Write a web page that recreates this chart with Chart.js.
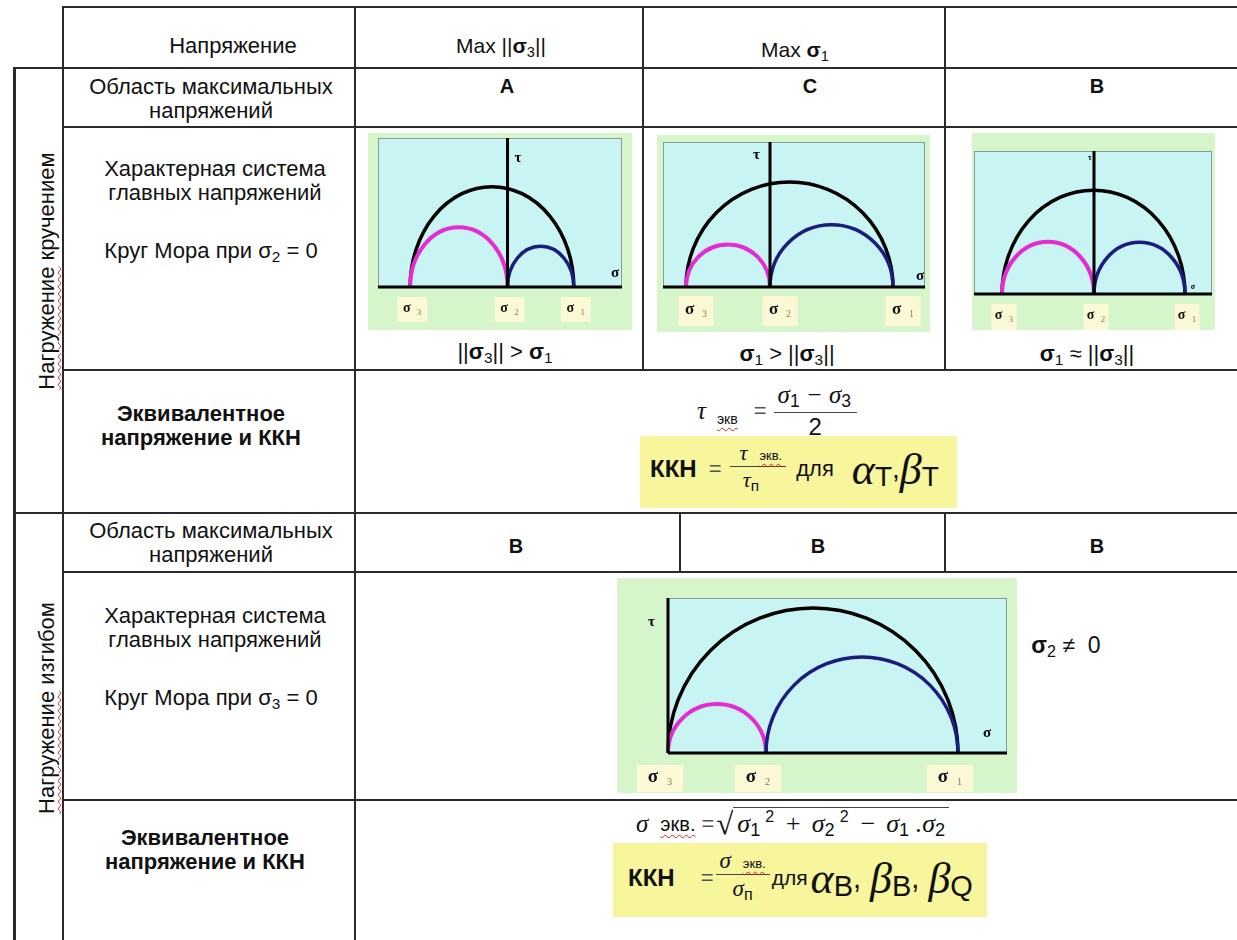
<!DOCTYPE html>
<html>
<head>
<meta charset="utf-8">
<script src="https://cdn.jsdelivr.net/npm/chart.js@4"></script>
<style>
  body { margin: 0; background: #fff; }
  #page { position: relative; width: 1237px; height: 940px; overflow: hidden; font-family: "Liberation Sans", Arial, sans-serif; color: #111; }
  .h, .v { position: absolute; background: #2a2a2a; }
  .t { position: absolute; transform: translate(-50%, -50%); white-space: nowrap; text-align: center; font-size: 22px; line-height: 24px; }
  .b { font-weight: bold; }
  .rot { position: absolute; white-space: nowrap; font-size: 22px; transform: translate(-50%, -50%) rotate(-90deg); }
  .spell { text-decoration: underline wavy #d22; text-decoration-thickness: 1px; text-underline-offset: 3px; }
  canvas { position: absolute; }
  .f { position: absolute; display: flex; align-items: center; white-space: nowrap; }
  .g { font-family: "Liberation Serif", serif; font-style: italic; }
  .u { font-family: "Liberation Sans", sans-serif; font-style: normal; }
  .frac { display: inline-flex; flex-direction: column; align-items: center; }
  .num { border-bottom: 1.5px solid #444; padding: 0 3px; }
  .ybox { position: absolute; background: #f7f69c; }
  sub { font-size: 70%; vertical-align: -0.25em; }
  .op { margin: 0 10px; }
</style>
</head>
<body>
<div id="page">
  <!-- grid lines -->
  <div class="h" style="left:63px;top:6px;width:1174px;height:2px"></div>
  <div class="h" style="left:14px;top:67px;width:1223px;height:2px"></div>
  <div class="h" style="left:64px;top:126px;width:1173px;height:2px"></div>
  <div class="h" style="left:64px;top:369px;width:1173px;height:2px"></div>
  <div class="h" style="left:14px;top:512px;width:1223px;height:2px"></div>
  <div class="h" style="left:64px;top:571px;width:1173px;height:2px"></div>
  <div class="h" style="left:64px;top:799px;width:1173px;height:2px"></div>
  <div class="v" style="left:13px;top:67px;width:3px;height:873px"></div>
  <div class="v" style="left:62px;top:6px;width:2px;height:934px"></div>
  <div class="v" style="left:354px;top:6px;width:2px;height:934px"></div>
  <div class="v" style="left:642px;top:6px;width:2px;height:364px"></div>
  <div class="v" style="left:944px;top:6px;width:2px;height:364px"></div>
  <div class="v" style="left:679px;top:512px;width:2px;height:60px"></div>
  <div class="v" style="left:944px;top:512px;width:2px;height:60px"></div>

  <!-- left headers -->
  <div class="rot" style="left:47px;top:271px"><span class="spell">Нагружение</span> кручением</div>
  <div class="rot" style="left:47px;top:708px"><span class="spell">Нагружение</span> изгибом</div>

  <div class="t" style="left:233px;top:46px">Напряжение</div>
  <div class="t" style="left:211px;top:99px">Область максимальных<br>напряжений</div>
  <div class="t" style="left:215px;top:181px">Характерная система<br>главных напряжений</div>
  <div class="t" style="left:211px;top:254px">Круг Мора при σ<sub>2</sub> = 0</div>
  <div class="t b" style="left:201px;top:426px">Эквивалентное<br>напряжение и ККН</div>
  <div class="t" style="left:211px;top:543px">Область максимальных<br>напряжений</div>
  <div class="t" style="left:215px;top:628px">Характерная система<br>главных напряжений</div>
  <div class="t" style="left:211px;top:701px">Круг Мора при σ<sub>3</sub> = 0</div>
  <div class="t b" style="left:205px;top:850px">Эквивалентное<br>напряжение и ККН</div>

  <!-- column headers -->
  <div class="t" style="left:501px;top:49px;font-size:21px">Max ||<b>σ</b><sub>3</sub>||</div>
  <div class="t" style="left:795px;top:53px;font-size:21px">Max <b>σ</b><sub>1</sub></div>
  <div class="t b" style="left:507px;top:86px;font-size:20px">A</div>
  <div class="t b" style="left:810px;top:86px;font-size:20px">C</div>
  <div class="t b" style="left:1097px;top:86px;font-size:20px">B</div>
  <div class="t b" style="left:516px;top:546px;font-size:20px">B</div>
  <div class="t b" style="left:818px;top:546px;font-size:20px">B</div>
  <div class="t b" style="left:1097px;top:546px;font-size:20px">B</div>

  <!-- Mohr diagrams -->
  <canvas id="mohr0" width="264" height="197" style="left:368px;top:133px"></canvas>
  <canvas id="mohr1" width="273" height="197" style="left:657px;top:135px"></canvas>
  <canvas id="mohr2" width="243" height="197" style="left:972px;top:133px"></canvas>
  <canvas id="mohr3" width="400" height="215" style="left:617px;top:578px"></canvas>

  <div class="t" style="left:505px;top:355px">||<b>σ</b><sub>3</sub>|| &gt; <b>σ</b><sub>1</sub></div>
  <div class="t" style="left:787px;top:357px"><b>σ</b><sub>1</sub> &gt; ||<b>σ</b><sub>3</sub>||</div>
  <div class="t" style="left:1087px;top:357px"><b>σ</b><sub>1</sub> ≈ ||<b>σ</b><sub>3</sub>||</div>
  <div class="t" style="left:1066px;top:648px;font-size:23px"><b>σ</b><sub>2</sub> ≠&nbsp; 0</div>

  <!-- torsion formulas -->
  <div class="f" style="left:697px;top:381px">
    <span class="g" style="font-size:25px">τ</span>
    <span class="spell" style="font-size:14px;margin:16px 0 0 11px">экв</span>
    <span style="font-size:22px;color:#555;margin:0 7px 0 16px">=</span>
    <span class="frac"><span class="num g" style="font-size:25px;padding:0 6px 0 4px">σ<sub class="u">1</sub> − σ<sub class="u">3</sub></span><span style="font-size:24px;line-height:27px">2</span></span>
  </div>
  <div class="ybox" style="left:640px;top:436px;width:317px;height:72px"></div>
  <div class="f" style="left:650px;top:440px">
    <span class="b" style="font-size:24px">ККН</span>
    <span style="font-size:22px;color:#555;margin:0 8px 0 12px">=</span>
    <span class="frac"><span class="num" style="padding:0 4px 0 10px"><span class="g" style="font-size:22px">τ</span><span class="spell" style="font-size:13px;margin-left:12px">экв.</span></span><span class="g" style="font-size:22px;line-height:26px;margin-right:14px">τ<sub class="u">п</sub></span></span>
    <span style="font-size:22px;margin:0 18px 0 10px">для</span>
    <span class="g" style="font-size:44px">α</span><span style="font-size:28px;margin-top:16px">Т</span><span style="font-size:28px">,</span><span class="g" style="font-size:44px">β</span><span style="font-size:28px;margin-top:16px">Т</span>
  </div>

  <!-- bending formulas -->
  <div class="f" style="left:636px;top:806px">
    <span class="g" style="font-size:25px">σ</span>
    <span class="spell" style="font-size:20px;margin-left:12px">экв.</span>
    <span style="font-size:22px;color:#555;margin:0 2px 0 6px">=</span>
    <span style="font-size:31px;font-family:'Liberation Serif'">√</span><span class="g" style="font-size:26px;border-top:1.5px solid #444;padding:0 4px">σ<sub class="u">1</sub><sup class="u" style="font-size:16px;margin-left:5px">2</sup><span class="op">+</span>σ<sub class="u">2</sub><sup class="u" style="font-size:16px;margin-left:5px">2</sup><span class="op">−</span>σ<sub class="u">1</sub>&nbsp;.σ<sub class="u">2</sub></span>
  </div>
  <div class="ybox" style="left:613px;top:843px;width:374px;height:74px"></div>
  <div class="f" style="left:628px;top:848px">
    <span class="b" style="font-size:24px">ККН</span>
    <span style="font-size:22px;color:#555;margin:0 2px 0 26px">=</span>
    <span class="frac"><span class="num" style="padding:0 4px"><span class="g" style="font-size:23px">σ</span><span class="spell" style="font-size:13px;margin-left:12px">экв.</span></span><span class="g" style="font-size:23px;line-height:27px">σ<sub class="u">п</sub></span></span>
    <span style="font-size:21px;margin:0 3px 0 2px">для</span>
    <span class="g" style="font-size:44px">α</span><span style="font-size:29px;margin-top:16px">В</span><span style="font-size:29px">,</span>
    <span class="g" style="font-size:44px;margin-left:9px">β</span><span style="font-size:29px;margin-top:16px">В</span><span style="font-size:29px">,</span>
    <span class="g" style="font-size:44px;margin-left:9px">β</span><span style="font-size:29px;margin-top:16px">Q</span>
  </div>
</div>

<script>
// principal stresses (arbitrary units, tau axis sits at sigma = 0)
const panels = ['A', 'C', 'B', 'bending'];
const sigma3 = [-97, -84, -92, 0];
const sigma2 = [0, 0, 0, 98];
const sigma1 = [66, 123, 91, 290];
const sigmaMin = [-129, -107, -120, 0];
const sigmaMax = [114, 155, 118, 339];
const tauMax = [121, 143, 126, 155];
const tickNames = ['3', '2', '1'];

// drawing setup per panel (not data)
const looks = [
    { pad: { left: 10, top: 5, right: 10, bottom: 43 }, tickFont: 14, subFont: 9, boxW: 30, boxH: 25, boxGap: 10, dx: 2, axisFont: 15, tauDx: 7, tauDy: 20, sigDx: -7, sigDy: -14 },
    { pad: { left: 6, top: 7, right: 5, bottom: 45 }, tickFont: 17, subFont: 10, boxW: 35, boxH: 30, boxGap: 9, dx: 10, axisFont: 15, tauDx: -17, tauDy: 13, sigDx: -5, sigDy: -11 },
    { pad: { left: 2, top: 18, right: 3, bottom: 36 }, tickFont: 14, subFont: 9, boxW: 25, boxH: 26, boxGap: 10, dx: 2, axisFont: 8, tauDx: -6, tauDy: 7, sigDx: -19, sigDy: -7 },
    { pad: { left: 51, top: 20, right: 10, bottom: 40 }, tickFont: 19, subFont: 11, boxW: 46, boxH: 27, boxGap: 12, dx: -8, axisFont: 15, tauDx: -20, tauDy: 24, sigDx: -20, sigDy: -20 },
];

const circleStyles = [
    { from: 0, to: 2, color: '#000000', width: 3.5 }, // sigma3 .. sigma1
    { from: 0, to: 1, color: '#e52bd2', width: 4 },   // sigma3 .. sigma2
    { from: 1, to: 2, color: '#1c1c7c', width: 3.5 }, // sigma2 .. sigma1
];

const mohrPlugin = {
    id: 'mohr',
    beforeDraw(chart) {
        const { ctx, chartArea } = chart;
        ctx.save();
        ctx.fillStyle = '#d6f5cb';
        ctx.fillRect(0, 0, chart.width, chart.height);
        ctx.fillStyle = '#c9f4f4';
        ctx.fillRect(chartArea.left, chartArea.top, chartArea.right - chartArea.left, chartArea.bottom - chartArea.top);
        ctx.strokeStyle = '#8a9a9a';
        ctx.lineWidth = 1;
        ctx.strokeRect(chartArea.left + 0.5, chartArea.top + 0.5, chartArea.right - chartArea.left - 1, chartArea.bottom - chartArea.top);
        ctx.restore();
    },
    afterDatasetsDraw(chart) {
        const { ctx, chartArea } = chart;
        const x = chart.scales.x, y = chart.scales.y;
        const look = chart.options.plugins.mohr;
        const pts = chart.data.datasets[0].data;
        const y0 = y.getPixelForValue(0);
        ctx.save();
        circleStyles.forEach(s => {
            const a = pts[s.from].x, b = pts[s.to].x;
            const cx = x.getPixelForValue((a + b) / 2);
            const rx = x.getPixelForValue(b) - cx;
            const ry = y0 - y.getPixelForValue((b - a) / 2);
            ctx.beginPath();
            ctx.ellipse(cx, y0, rx, ry, 0, Math.PI, 2 * Math.PI);
            ctx.strokeStyle = s.color;
            ctx.lineWidth = s.width;
            ctx.stroke();
        });
        // sigma and tau axes
        const xt = x.getPixelForValue(0);
        ctx.strokeStyle = '#000';
        ctx.lineWidth = 3;
        ctx.beginPath();
        ctx.moveTo(chartArea.left, y0);
        ctx.lineTo(chartArea.right, y0);
        ctx.moveTo(xt, chartArea.top);
        ctx.lineTo(xt, y0);
        ctx.stroke();
        ctx.fillStyle = '#000';
        ctx.font = 'bold ' + look.axisFont + 'px "Liberation Serif"';
        ctx.textAlign = 'left';
        ctx.textBaseline = 'middle';
        ctx.fillText('τ', xt + look.tauDx, chartArea.top + look.tauDy);
        ctx.textAlign = 'center';
        ctx.fillText('σ', chartArea.right + look.sigDx, y0 + look.sigDy);
        // principal stress labels under the axis
        pts.forEach((p, i) => {
            const cx = x.getPixelForValue(p.x) + look.dx;
            const top = y0 + look.boxGap;
            ctx.fillStyle = '#fbf8d6';
            ctx.fillRect(cx - look.boxW / 2, top, look.boxW, look.boxH);
            ctx.font = 'bold ' + look.tickFont + 'px "Liberation Serif"';
            const ws = ctx.measureText('σ').width;
            ctx.font = look.subFont + 'px "Liberation Serif"';
            const wb = ctx.measureText(tickNames[i]).width;
            const gap = look.tickFont * 0.45;
            const start = cx - (ws + gap + wb) / 2;
            ctx.textAlign = 'left';
            ctx.fillStyle = '#111';
            ctx.font = 'bold ' + look.tickFont + 'px "Liberation Serif"';
            ctx.fillText('σ', start, top + look.boxH * 0.45);
            ctx.fillStyle = '#8a8060';
            ctx.font = look.subFont + 'px "Liberation Serif"';
            ctx.fillText(tickNames[i], start + ws + gap, top + look.boxH * 0.62);
        });
        ctx.restore();
    }
};

panels.forEach((name, i) => {
    new Chart(document.getElementById('mohr' + i), {
        type: 'scatter',
        data: {
            datasets: [{
                label: name,
                data: [
                    { x: sigma3[i], y: 0 },
                    { x: sigma2[i], y: 0 },
                    { x: sigma1[i], y: 0 },
                ],
                pointRadius: 0,
            }]
        },
        options: {
            responsive: false,
            animation: false,
            events: [],
            layout: { padding: looks[i].pad },
            scales: {
                x: { type: 'linear', display: false, min: sigmaMin[i], max: sigmaMax[i] },
                y: { type: 'linear', display: false, min: 0, max: tauMax[i] },
            },
            plugins: {
                legend: { display: false },
                tooltip: { enabled: false },
                mohr: looks[i],
            }
        },
        plugins: [mohrPlugin]
    });
});
</script>
</body>
</html>
